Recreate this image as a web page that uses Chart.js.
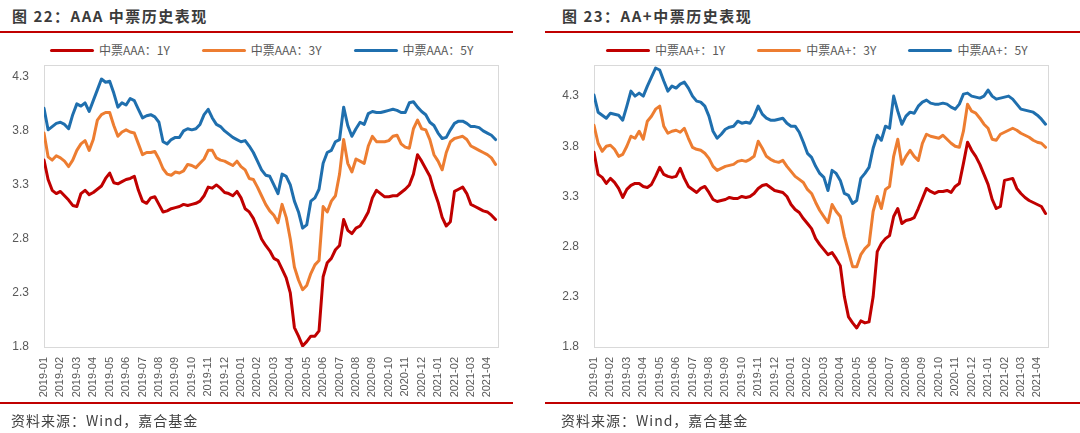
<!DOCTYPE html>
<html><head><meta charset="utf-8">
<script src="https://cdn.jsdelivr.net/npm/chart.js@4.4.1/dist/chart.umd.min.js"></script>
<style>
html,body{margin:0;padding:0;background:#fff;}
#page{position:relative;width:1080px;height:433px;overflow:hidden;font-family:"Noto Sans CJK SC","Noto Sans",sans-serif;}
.title{position:absolute;top:5px;font-weight:700;font-size:15px;color:#3b3b3b;letter-spacing:1.5px;line-height:22px;white-space:nowrap;}
.rule{position:absolute;height:1.5px;background:#c00000;}
.legend{position:absolute;top:41px;display:flex;gap:32px;font-size:12px;color:#595959;line-height:18px;white-space:nowrap;}
.legend .item{display:flex;align-items:center;}
.legend .swatch{width:44px;height:3px;margin-right:5px;border-radius:1.5px;}
.footer{position:absolute;top:409px;font-size:14px;color:#404040;letter-spacing:1px;line-height:22px;white-space:nowrap;}
canvas{position:absolute;top:0;}
</style></head>
<body>
<div id="page">
  <div class="title" style="left:12px;">图 22：AAA 中票历史表现</div>
  <div class="title" style="left:562px;">图 23：AA+中票历史表现</div>
  <div class="rule" style="left:0;width:513px;top:31px;"></div>
  <div class="rule" style="left:545px;width:535px;top:31px;"></div>
  <div class="legend" id="legL" style="left:50px;"></div>
  <div class="legend" id="legR" style="left:606px;"></div>
  <canvas id="cL" width="513" height="433" style="left:0;"></canvas>
  <canvas id="cR" width="540" height="433" style="left:540px;"></canvas>
  <div class="rule" style="left:0;width:513px;top:402px;"></div>
  <div class="rule" style="left:545px;width:535px;top:402px;"></div>
  <div class="footer" style="left:11px;">资料来源：Wind，嘉合基金</div>
  <div class="footer" style="left:561px;">资料来源：Wind，嘉合基金</div>
</div>
<script>
// Month tick labels (x axis); each series holds 4 readings per month starting 2019-01
const monthLabels = ["2019-01","2019-02","2019-03","2019-04","2019-05","2019-06","2019-07","2019-08","2019-09","2019-10","2019-11","2019-12",
  "2020-01","2020-02","2020-03","2020-04","2020-05","2020-06","2020-07","2020-08","2020-09","2020-10","2020-11","2020-12",
  "2021-01","2021-02","2021-03","2021-04"];
const pointsPerMonth = 4;
const yTicks = [1.8, 2.3, 2.8, 3.3, 3.8, 4.3];

const seriesNamesL = ["中票AAA：1Y", "中票AAA：3Y", "中票AAA：5Y"];
const seriesNamesR = ["中票AA+：1Y", "中票AA+：3Y", "中票AA+：5Y"];
const colors = ["#c00000", "#ed7d31", "#1f6fae"];

const aaa1Y = [3.53,3.35,3.25,3.22, 3.24,3.20,3.16,3.11, 3.10,3.22,3.25,3.21, 3.23,3.26,3.29,3.36,
  3.41,3.32,3.31,3.33, 3.35,3.36,3.38,3.25, 3.15,3.13,3.18,3.19, 3.12,3.05,3.06,3.08,
  3.09,3.10,3.12,3.11, 3.12,3.13,3.15,3.20, 3.28,3.27,3.30,3.27, 3.23,3.22,3.20,3.24,
  3.18,3.08,3.05,2.99, 2.90,2.80,2.74,2.69, 2.62,2.60,2.52,2.44, 2.30,1.98,1.90,1.81,
  1.85,1.90,1.90,1.95, 2.45,2.58,2.62,2.70, 2.74,2.98,2.88,2.85, 2.90,2.92,2.98,3.05,
  3.18,3.25,3.22,3.19, 3.19,3.20,3.20,3.23, 3.26,3.30,3.40,3.58, 3.52,3.45,3.38,3.25,
  3.14,3.00,2.92,2.96, 3.24,3.26,3.28,3.22, 3.12,3.10,3.08,3.06, 3.05,3.02,2.98];
const aaa3Y = [3.78,3.56,3.53,3.57, 3.55,3.52,3.47,3.53, 3.62,3.68,3.71,3.62, 3.72,3.90,3.95,3.97,
  3.97,3.85,3.75,3.79, 3.81,3.79,3.78,3.68, 3.58,3.60,3.60,3.61, 3.54,3.45,3.40,3.39,
  3.42,3.41,3.43,3.49, 3.48,3.46,3.50,3.54, 3.62,3.62,3.55,3.53, 3.52,3.50,3.48,3.52,
  3.47,3.44,3.36,3.35, 3.28,3.20,3.12,3.06, 3.02,2.95,3.12,3.00, 2.80,2.54,2.42,2.33,
  2.37,2.48,2.56,2.60, 3.10,3.05,3.15,3.20, 3.40,3.72,3.50,3.42, 3.54,3.52,3.50,3.66,
  3.75,3.70,3.70,3.70, 3.71,3.75,3.76,3.68, 3.65,3.64,3.82,3.90, 3.82,3.81,3.72,3.58,
  3.52,3.44,3.60,3.70, 3.73,3.74,3.75,3.72, 3.66,3.64,3.62,3.60, 3.58,3.55,3.49];
const aaa5Y = [4.01,3.81,3.84,3.87, 3.88,3.86,3.82,3.95, 4.05,4.03,4.06,3.98, 4.08,4.18,4.28,4.25,
  4.26,4.15,4.02,4.06, 4.04,4.10,4.08,4.00, 3.92,3.94,3.95,3.93, 3.88,3.70,3.68,3.72,
  3.74,3.74,3.80,3.82, 3.81,3.82,3.86,3.95, 4.00,3.92,3.86,3.84, 3.80,3.77,3.74,3.72,
  3.70,3.71,3.66,3.60, 3.52,3.44,3.39,3.38, 3.30,3.22,3.40,3.38, 3.30,3.15,3.05,2.90,
  2.93,3.15,3.18,3.26, 3.50,3.60,3.62,3.70, 3.72,4.02,3.85,3.75, 3.82,3.88,3.86,3.96,
  3.98,3.97,3.97,3.98, 3.99,4.00,3.99,3.97, 3.97,4.06,4.07,4.02, 3.98,3.95,3.88,3.85,
  3.78,3.73,3.74,3.81, 3.87,3.89,3.89,3.87, 3.84,3.84,3.83,3.80, 3.78,3.76,3.72];

const aap1Y = [3.74,3.52,3.49,3.43, 3.48,3.44,3.38,3.29, 3.37,3.41,3.43,3.43, 3.40,3.39,3.42,3.50,
  3.59,3.52,3.50,3.49, 3.50,3.58,3.48,3.40, 3.37,3.34,3.38,3.40, 3.34,3.27,3.25,3.26,
  3.27,3.29,3.28,3.28, 3.30,3.29,3.30,3.33, 3.38,3.41,3.42,3.39, 3.36,3.35,3.34,3.30,
  3.22,3.17,3.14,3.08, 3.03,2.98,2.88,2.82, 2.77,2.72,2.74,2.68, 2.61,2.30,2.10,2.04,
  1.99,2.06,2.04,2.05, 2.30,2.75,2.83,2.88, 2.91,3.10,3.18,3.03, 3.06,3.07,3.09,3.18,
  3.28,3.38,3.35,3.33, 3.35,3.35,3.36,3.34, 3.40,3.43,3.63,3.84, 3.76,3.70,3.62,3.52,
  3.42,3.27,3.18,3.20, 3.46,3.47,3.48,3.38, 3.33,3.29,3.26,3.24, 3.22,3.20,3.13];
const aap3Y = [4.01,3.83,3.75,3.80, 3.81,3.77,3.70,3.72, 3.80,3.90,3.88,3.95, 3.87,4.05,4.10,4.17,
  4.20,4.00,3.93,3.95, 3.96,3.94,3.98,3.88, 3.79,3.77,3.76,3.73, 3.68,3.60,3.56,3.58,
  3.60,3.61,3.62,3.65, 3.66,3.65,3.67,3.70, 3.85,3.78,3.70,3.67, 3.65,3.64,3.66,3.60,
  3.55,3.50,3.47,3.44, 3.37,3.33,3.24,3.16, 3.10,3.04,3.22,3.15, 3.10,2.90,2.75,2.60,
  2.60,2.72,2.78,2.82, 3.15,3.30,3.18,3.37, 3.40,3.70,3.87,3.62, 3.70,3.76,3.70,3.66,
  3.83,3.92,3.90,3.89, 3.88,3.91,3.87,3.83, 3.80,3.79,3.95,4.22, 4.15,4.13,4.08,4.02,
  3.98,3.87,3.86,3.92, 3.94,3.96,3.98,3.96, 3.93,3.91,3.89,3.86, 3.84,3.83,3.79];
const aap5Y = [4.31,4.14,4.11,4.08, 4.13,4.12,4.11,4.06, 4.20,4.35,4.30,4.33, 4.30,4.40,4.49,4.58,
  4.56,4.45,4.35,4.40, 4.38,4.42,4.44,4.38, 4.30,4.25,4.24,4.20, 4.10,3.95,3.88,3.92,
  3.97,3.99,4.00,4.05, 4.03,4.04,4.03,4.10, 4.20,4.12,4.08,4.06, 4.06,4.07,4.08,4.03,
  4.00,4.00,3.94,3.84, 3.73,3.69,3.60,3.53, 3.49,3.36,3.56,3.53, 3.46,3.33,3.31,3.23,
  3.26,3.48,3.53,3.59, 3.78,3.91,3.86,4.00, 3.98,4.30,4.15,4.02, 4.10,4.14,4.13,4.20,
  4.24,4.26,4.23,4.22, 4.22,4.23,4.22,4.19, 4.17,4.22,4.32,4.33, 4.30,4.29,4.28,4.30,
  4.36,4.30,4.27,4.28, 4.29,4.30,4.27,4.22, 4.17,4.16,4.15,4.14, 4.11,4.07,4.02];

function buildLegend(el, names) {
  names.forEach((n, i) => {
    const it = document.createElement('div'); it.className = 'item';
    const sw = document.createElement('span'); sw.className = 'swatch'; sw.style.background = colors[i];
    const tx = document.createElement('span'); tx.textContent = n;
    it.appendChild(sw); it.appendChild(tx); el.appendChild(it);
  });
}
buildLegend(document.getElementById('legL'), seriesNamesL);
buildLegend(document.getElementById('legR'), seriesNamesR);

const plotBox = {
  id: 'plotBox',
  beforeDatasetsDraw(chart) {
    const a = chart.chartArea, c = chart.ctx;
    c.save(); c.strokeStyle = '#d9d9d9'; c.lineWidth = 1;
    c.strokeRect(Math.round(a.left) + 0.5, Math.round(a.top) + 0.5, Math.round(a.right - a.left), Math.round(a.bottom - a.top));
    c.restore();
  }
};

function makeChart(id, names, series, yMax, yWidth, pad) {
  const datasets = series.map((vals, k) => ({
    label: names[k],
    data: vals.map((v, i) => ({ x: i / pointsPerMonth, y: v })),
    borderColor: colors[k], backgroundColor: colors[k],
    borderWidth: 3, pointRadius: 0, tension: 0, fill: false,
    borderJoinStyle: 'round', borderCapStyle: 'round'
  }));
  return new Chart(document.getElementById(id), {
    type: 'line',
    data: { datasets },
    plugins: [plotBox],
    options: {
      responsive: false, animation: false, devicePixelRatio: 1,
      layout: { padding: pad },
      plugins: { legend: { display: false }, tooltip: { enabled: false } },
      scales: {
        x: {
          type: 'linear', min: 0, max: 27.65,
          grid: { display: false, drawTicks: false }, border: { display: false },
          afterBuildTicks: s => { s.ticks = monthLabels.map((_, i) => ({ value: i })); },
          afterFit: s => { s.height = 60; },
          ticks: {
            autoSkip: false, minRotation: 90, maxRotation: 90, padding: 10,
            color: '#595959', font: { family: 'Liberation Sans', size: 11 },
            callback: v => monthLabels[v] ?? ''
          }
        },
        y: {
          min: 1.8, max: yMax,
          grid: { display: false, drawTicks: false }, border: { display: false },
          afterBuildTicks: s => { s.ticks = yTicks.map(v => ({ value: v })); },
          afterFit: s => { s.width = yWidth; },
          ticks: {
            padding: 15, color: '#595959', font: { family: 'Liberation Sans', size: 12 },
            callback: v => Number(v).toFixed(1)
          }
        }
      }
    }
  });
}

makeChart('cL', seriesNamesL, [aaa1Y, aaa3Y, aaa5Y], 4.41, 44, { left: 0, right: 15, top: 65, bottom: 26 });
makeChart('cR', seriesNamesR, [aap1Y, aap3Y, aap5Y], 4.61, 54, { left: 0, right: 32, top: 65, bottom: 26 });
</script>
</body></html>
